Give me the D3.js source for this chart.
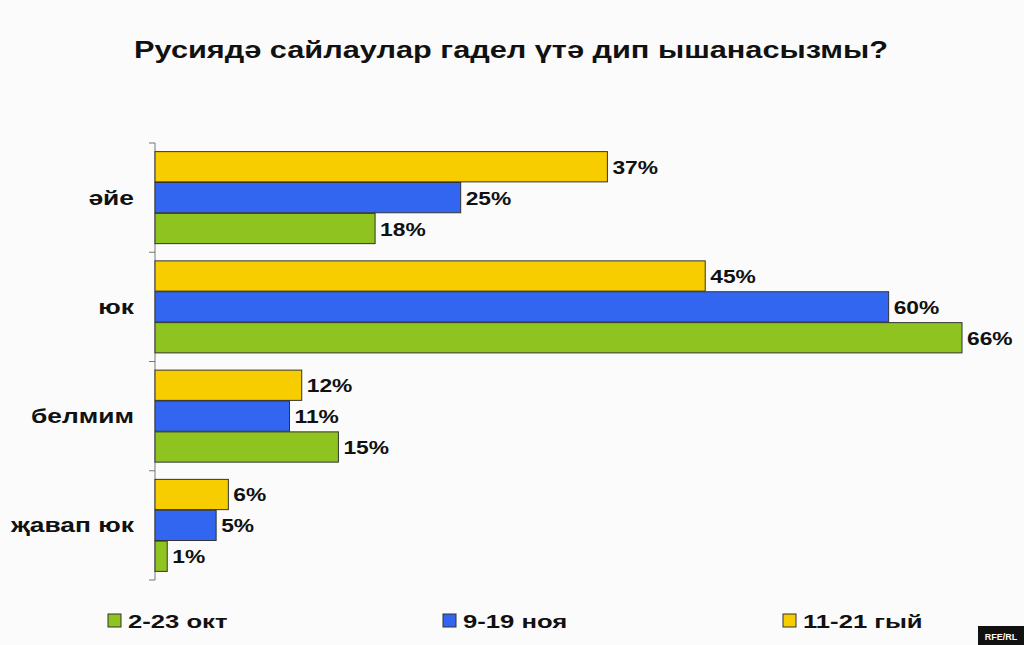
<!DOCTYPE html>
<html><head><meta charset="utf-8">
<script src="https://cdnjs.cloudflare.com/ajax/libs/d3/7.8.5/d3.min.js"></script>
<style>body{margin:0;background:#fbfbfb}text{font-family:"Liberation Sans",Arial,sans-serif;font-weight:bold;fill:#111}</style>
</head><body>
<script>
var categories = ["әйе", "юк", "белмим", "җавап юк"];
var seriesNames = ["11-21 гый", "9-19 ноя", "2-23 окт"];
var nov21 = [37, 45, 12, 6];
var nov19 = [25, 60, 11, 5];
var oct23 = [18, 66, 15, 1];
var colors = ["#f7cd00", "#3366f0", "#8fc31f"];
var legendOrder = [2, 1, 0];
var legendX = [108, 443, 783];

var width = 1024, height = 645;
var svg = d3.select("body").append("svg").attr("width", width).attr("height", height);
svg.append("rect").attr("width", width).attr("height", height).attr("fill", "#fbfbfb");

function txt(px, py, sx, size, anchor, s) {
  return svg.append("text").attr("transform", "translate(" + px + "," + py + ") scale(" + sx + ",1)")
    .attr("text-anchor", anchor).style("font-size", size + "px").text(s);
}

txt(511, 58, 1.28, 24, "middle", "Русиядә сайлаулар гадел үтә дип ышанасызмы?");

var x = d3.scaleLinear().domain([0, 66]).range([155, 962]);
var y = d3.scaleBand().domain(categories).range([143, 580]);
var inner = d3.scaleBand().domain([0, 1, 2]).range([8, y.bandwidth() - 8]).padding(0.02);
var series = [nov21, nov19, oct23];

svg.append("line").attr("x1", 155).attr("x2", 155).attr("y1", 143).attr("y2", 580).attr("stroke", "#777");
var ticks = categories.map(function(c){ return y(c); }).concat([580]);
svg.selectAll(".tk").data(ticks).enter().append("line")
   .attr("x1", 149).attr("x2", 155).attr("y1", function(d){return d;}).attr("y2", function(d){return d;}).attr("stroke", "#777");

categories.forEach(function(c, ci) {
  txt(134, y(c) + y.bandwidth()/2 + 7, 1.32, 20, "end", c);
  series.forEach(function(s, si) {
    var yy = y(c) + inner(si);
    svg.append("rect").attr("x", x(0)).attr("y", yy).attr("width", x(s[ci]) - x(0)).attr("height", inner.bandwidth())
       .attr("fill", colors[si]).attr("stroke", "#333").attr("stroke-width", 1);
    txt(x(s[ci]) + 5, yy + inner.bandwidth()/2 + 7, 1.2, 19, "start", s[ci] + "%");
  });
});

legendOrder.forEach(function(si, i) {
  svg.append("rect").attr("x", legendX[i]).attr("y", 614).attr("width", 13).attr("height", 13)
     .attr("fill", colors[si]).attr("stroke", "#333");
  txt(legendX[i] + 20, 628, 1.35, 19, "start", seriesNames[si]);
});

svg.append("rect").attr("x", 978).attr("y", 626).attr("width", 46).attr("height", 19).attr("fill", "#111");
svg.append("text").attr("x", 1001).attr("y", 640).attr("text-anchor", "middle").style("font-size", "9px")
   .style("fill", "#fff").text("RFE/RL");
</script>
</body></html>
